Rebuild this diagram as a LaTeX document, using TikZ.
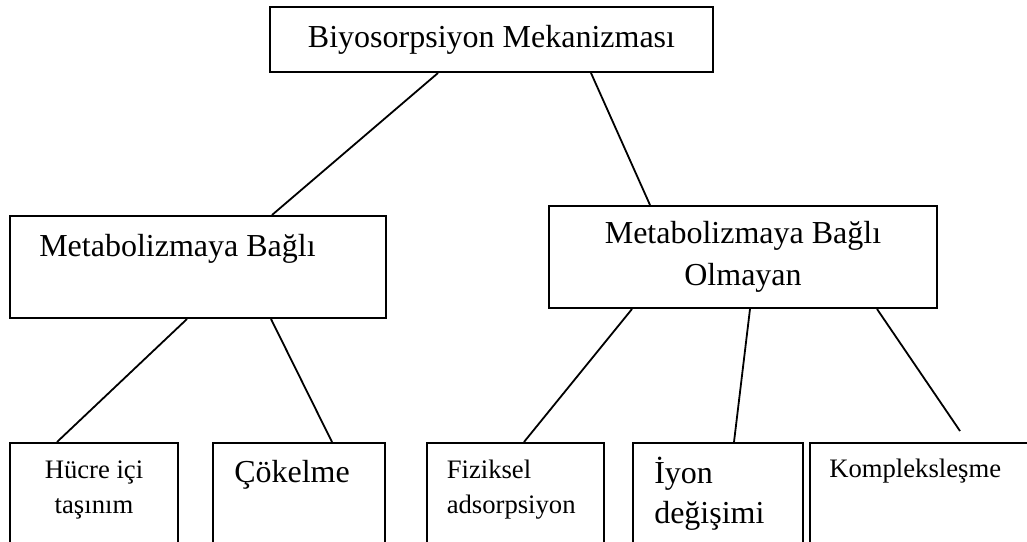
\documentclass[tikz,border=0pt]{standalone}
\usepackage{fontspec}
\setmainfont{Liberation Serif}
\newdimen\px \px=0.75pt
\begin{document}
\begin{tikzpicture}[
  x=\px, y=-\px,
  box/.style={draw, line width=2\px, inner sep=0pt},
  conn/.style={line width=1.8\px},
  lbl/.style={inner sep=0pt, align=left},
  big/.style={font=\fontsize{24}{31.5}\selectfont},
  small/.style={font=\fontsize{20}{26}\selectfont}
]
\useasboundingbox (0,0) rectangle (1027,542);
\clip (0,0) rectangle (1027,542);
% boxes
\node[box, big, minimum width=443\px, minimum height=65\px] (top) at (491.5,39.5) {Biyosorpsiyon Mekanizması};
\node[box, minimum width=376\px, minimum height=102\px] (metab) at (198,267) {};
\node[box, big, align=center, minimum width=388\px, minimum height=102\px] (nonmetab) at (743,257) {Metabolizmaya Bağlı\\Olmayan};
\node[box, minimum width=168\px, minimum height=120\px] (hucre) at (94,503) {};
\node[box, minimum width=172\px, minimum height=120\px] (cokel) at (299,503) {};
\node[box, minimum width=177\px, minimum height=120\px] (fiz) at (515,503) {};
\node[box, minimum width=170\px, minimum height=120\px] (iyon) at (718,503) {};
\node[box, minimum width=240\px, minimum height=120\px] (kompl) at (930,503) {};
% texts (base = last line)
\node[lbl, big, anchor=base west] (metabtxt) at ([shift={(30,41)}]metab.north west) {Metabolizmaya Bağlı};
\node[lbl, small, align=center, anchor=base] (hucretxt) at ([shift={(0,71)}]hucre.north) {Hücre içi\\taşınım};
\node[lbl, big, anchor=base west] (cokeltxt) at ([shift={(22,40)}]cokel.north west) {Çökelme};
\node[lbl, small, anchor=base west] (fiztxt) at ([shift={(21,71)}]fiz.north west) {Fiziksel\\adsorpsiyon};
\node[lbl, font=\fontsize{24}{30}\selectfont, anchor=base west] (iyontxt) at ([shift={(22,81)}]iyon.north west) {İyon\\değişimi};
\node[lbl, small, anchor=base west] (kompltxt) at ([shift={(20,35)}]kompl.north west) {Kompleksleşme};
% connectors
\coordinate (komplend) at (960,431);
\draw[conn] ([xshift=-53.5\px]top.south) -- ([xshift=74\px]metab.north);
\draw[conn] ([xshift=99.5\px]top.south) -- ([xshift=-93\px]nonmetab.north);
\draw[conn] ([xshift=-11\px]metab.south) -- ([xshift=-37\px]hucre.north);
\draw[conn] ([xshift=73\px]metab.south) -- ([xshift=33\px]cokel.north);
\draw[conn] ([xshift=-111\px]nonmetab.south) -- ([xshift=9\px]fiz.north);
\draw[conn] ([xshift=7\px]nonmetab.south) -- ([xshift=16\px]iyon.north);
\draw[conn] ([xshift=134\px]nonmetab.south) -- (komplend);
\end{tikzpicture}
\end{document}
